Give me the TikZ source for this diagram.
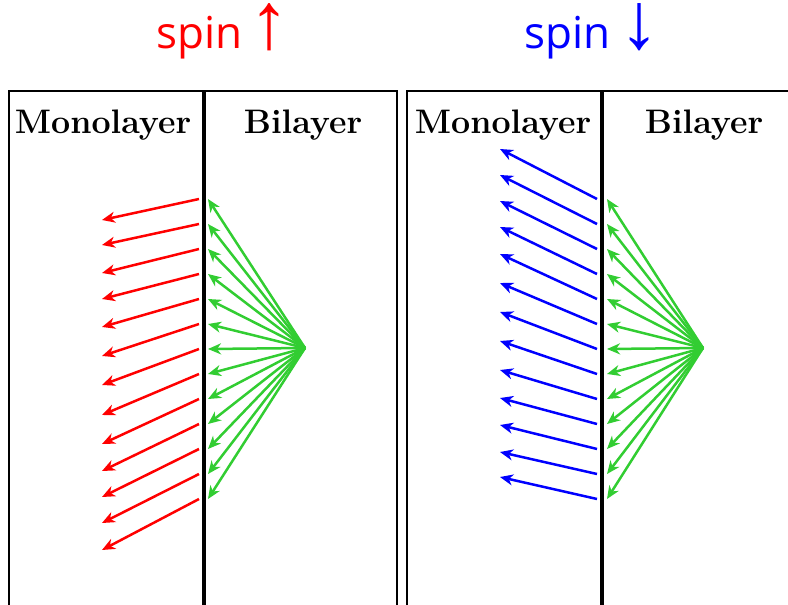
\documentclass[tikz,border=0pt]{standalone}
\usepackage{fontspec}
\setmainfont{Latin Modern Roman}
\newfontfamily\titlefont{Open Sans}
\newfontfamily\symfont{Liberation Sans}
\usetikzlibrary{arrows.meta}
\definecolor{arrowgreen}{RGB}{50,205,50}
\definecolor{spinred}{RGB}{255,0,0}
\definecolor{spinblue}{RGB}{0,0,255}
\newcommand{\spinarrow}[1]{\smash{\symfont\fontsize{80}{80}\selectfont #1}}
\tikzset{
  panel/.style={draw=black, line width=2pt},
  divider/.style={draw=black, line width=3.2pt},
  layerlabel/.style={anchor=base, inner sep=0pt, font=\fontsize{34}{40}\selectfont\bfseries},
  titlelabel/.style={anchor=base, inner sep=0pt, font=\fontsize{44}{50}\selectfont},
  ray/.style={line width=2.5pt, -{Stealth[length=13pt,width=11pt,inset=4pt]}},
  greenray/.style={ray, draw=arrowgreen},
  redray/.style={ray, draw=spinred},
  blueray/.style={ray, draw=spinblue}
}
\begin{document}
\begin{tikzpicture}[x=1pt,y=-1pt]
\useasboundingbox (0,0) rectangle (788,605);
% titles
\node[titlelabel, text=spinred] (titleL) at (223,48) {\titlefont spin\hspace{7pt}\spinarrow{↑}};
\node[titlelabel, text=spinblue] (titleR) at (592,48) {\titlefont spin\hspace{9pt}\spinarrow{↓}};
% panels
\draw[panel] (9,606) -- (9,91) -- (397,91) -- (397,606);
\draw[divider] (204,91) -- (204,606);
\draw[panel] (407,606) -- (407,91) -- (792,91);
\draw[divider] (602,91) -- (602,606);
% labels
\node[layerlabel] (monoL) at (103,133) {Monolayer};
\node[layerlabel] (biL) at (303,133) {Bilayer};
\node[layerlabel] (monoR) at (503,133) {Monolayer};
\node[layerlabel] (biR) at (704,133) {Bilayer};
% sources
\coordinate (apexL) at (305,348);
\coordinate (apexR) at (703,348);
% left panel: spin up
\foreach \r [count=\i from 0] in {21,21,24,25,28,32,36,41,45,47,48,49,51} {
  \pgfmathsetmacro\yy{199+25*\i}
  \coordinate (gL\i) at (208,\yy);
  \coordinate (rS\i) at (199,\yy);
  \coordinate (rE\i) at (102,{\yy+\r});
  \draw[greenray] (apexL) -- (gL\i);
  \draw[redray] (rS\i) -- (rE\i);
}
% right panel: spin down
\foreach \b [count=\i from 0] in {-50,-49,-48,-47,-45,-41,-37,-33,-29,-26,-24,-22,-22} {
  \pgfmathsetmacro\yy{199+25*\i}
  \coordinate (gR\i) at (607,\yy);
  \coordinate (bS\i) at (597,\yy);
  \coordinate (bE\i) at (500,{\yy+\b});
  \draw[greenray] (apexR) -- (gR\i);
  \draw[blueray] (bS\i) -- (bE\i);
}
\end{tikzpicture}
\end{document}
